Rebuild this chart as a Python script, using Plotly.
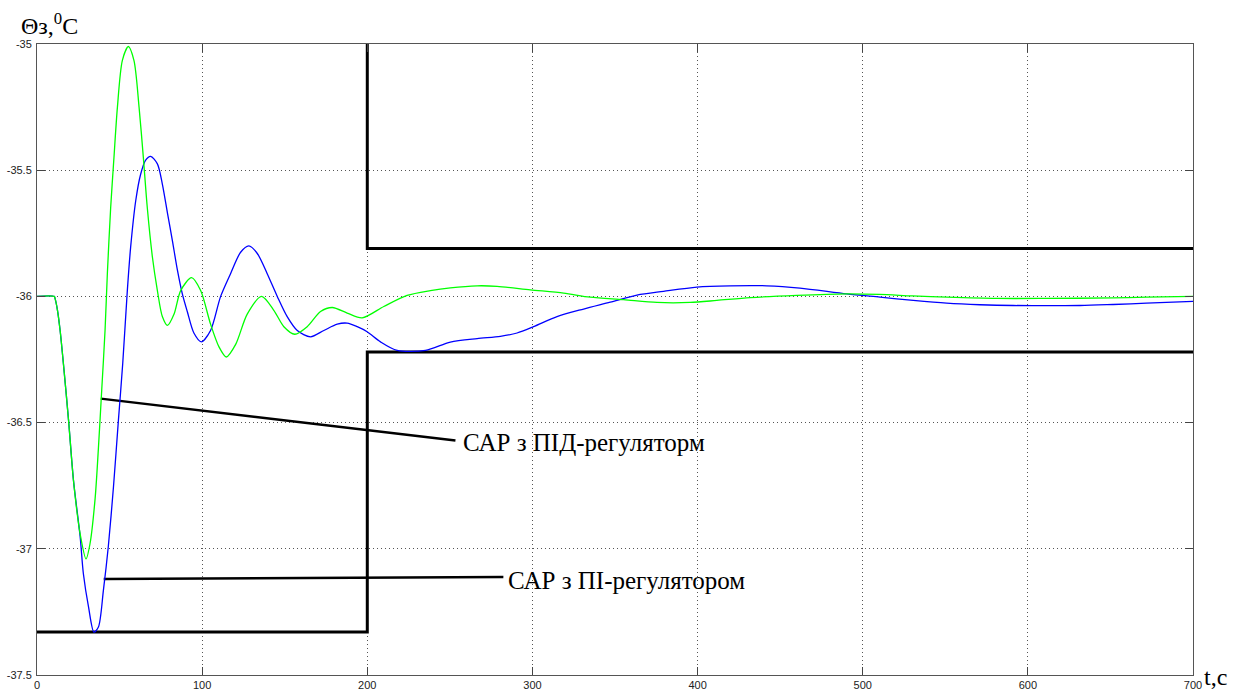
import plotly.graph_objects as go

# Transient response of the zone temperature, deg C, versus time, s
# PID-controlled loop (green)
t_pid = [0, 10.4, 11, 12.4, 14, 16, 19.1, 22.1, 26.1, 29.7, 32.1, 35.2, 37.2, 39.2,
         41.2, 42.6, 44.6, 46.6, 48.7, 51.7, 55.3, 58.7, 61.8, 64.4, 66.8, 69.9, 72.9,
         75.9, 79, 83, 87, 93.6, 99.1, 105.1, 110.2, 114.6, 120.3, 127.3, 136, 143.4,
         149.5, 156.1, 163.6, 171.7, 178.8, 187.8, 196.9, 210, 224.1, 238.2, 250.3,
         266.5, 278.6, 298.7, 318.9, 335, 355.2, 375.4, 395.5, 411.7, 431.9, 460, 490,
         510, 530, 551, 581, 611, 652, 672, 700]
y_pid = [-36.0, -36.0, -36.01, -36.055, -36.135, -36.267, -36.49, -36.73, -36.94, -37.04,
         -36.98, -36.80, -36.60, -36.37, -36.135, -35.91, -35.65, -35.45, -35.25, -35.065,
         -35.01, -35.065, -35.25, -35.45, -35.65, -35.845, -35.977, -36.08, -36.115,
         -36.07, -35.977, -35.926, -35.977, -36.11, -36.2, -36.24, -36.19, -36.07, -36.0,
         -36.055, -36.12, -36.15, -36.12, -36.06, -36.044, -36.066, -36.085, -36.04,
         -35.996, -35.977, -35.966, -35.958, -35.96, -35.974, -35.987, -36.003, -36.013,
         -36.024, -36.024, -36.016, -36.005, -35.996, -35.99, -35.992, -35.998, -36.003,
         -36.008, -36.008, -36.006, -36.003, -36.0]

# PI-controlled loop (blue)
t_pi = [0, 10.4, 11, 12.4, 14, 16, 19.1, 22.1, 26.1, 28.1, 31.2, 34.5, 37.2, 40.2, 43.2,
        46.3, 49.3, 51.9, 54.7, 56.7, 59.8, 62.8, 65.8, 68.8, 72.9, 75.9, 79, 82, 85, 88,
        91, 95, 99.5, 105.1, 111.2, 117.2, 123.3, 128.3, 133.4, 139.4, 145.5, 151.5,
        157.6, 165.6, 173.7, 181.8, 187.8, 193.9, 199.9, 208, 218.1, 235.2, 250.3, 266.5,
        280.6, 290.7, 300.7, 314.9, 331, 347.1, 363.3, 379.4, 399.6, 419.7, 441.9, 462,
        490.3, 510.5, 530.6, 550.8, 571, 591.1, 631.5, 651.6, 671.8, 700]
y_pi = [-36.0, -36.0, -36.01, -36.055, -36.135, -36.267, -36.49, -36.73, -36.95, -37.10,
        -37.23, -37.33, -37.31, -37.165, -36.99, -36.755, -36.49, -36.267, -35.977,
        -35.805, -35.62, -35.515, -35.46, -35.445, -35.475, -35.555, -35.67, -35.78,
        -35.895, -35.99, -36.06, -36.145, -36.18, -36.135, -36.0, -35.91, -35.825, -35.80,
        -35.83, -35.91, -36.0, -36.08, -36.135, -36.16, -36.135, -36.11, -36.106, -36.12,
        -36.14, -36.18, -36.214, -36.214, -36.181, -36.167, -36.158, -36.145, -36.12,
        -36.08, -36.05, -36.023, -35.995, -35.98, -35.963, -35.958, -35.958, -35.967,
        -35.99, -36.003, -36.016, -36.027, -36.033, -36.036, -36.036, -36.032, -36.027,
        -36.02]

# Permitted band limits
t_low = [0, 200, 200, 700]
y_low = [-37.33, -37.33, -36.22, -36.22]
t_up = [200, 200, 700]
y_up = [-35.0, -35.81, -35.81]

# Leader lines for the curve labels
t_lead_pid = [38.6, 253.4]
y_lead_pid = [-36.405, -36.571]
t_lead_pi = [40.4, 282.4]
y_lead_pi = [-37.12, -37.112]

label_pid = "САР з ПІД-регуляторм"
label_pi = "САР з ПІ-регулятором"
label_pid_pos = (257.0, -36.579)
label_pi_pos = (284.0, -37.126)

x_ticks = [0, 100, 200, 300, 400, 500, 600, 700]
y_ticks = [-37.5, -37, -36.5, -36, -35.5, -35]

fig = go.Figure()

black = dict(color="black", width=3)
fig.add_trace(go.Scatter(x=t_low, y=y_low, mode="lines", line=black))
fig.add_trace(go.Scatter(x=t_up, y=y_up, mode="lines", line=black))
fig.add_trace(go.Scatter(x=t_lead_pid, y=y_lead_pid, mode="lines",
                         line=dict(color="black", width=2.5)))
fig.add_trace(go.Scatter(x=t_lead_pi, y=y_lead_pi, mode="lines",
                         line=dict(color="black", width=2.5)))

fig.add_trace(go.Scatter(x=t_pi, y=y_pi, mode="lines",
                         line=dict(color="#0000ff", width=1.3, shape="spline", smoothing=0.8)))
fig.add_trace(go.Scatter(x=t_pid, y=y_pid, mode="lines",
                         line=dict(color="#00ff00", width=1.3, shape="spline", smoothing=0.8)))

serif = "Liberation Serif"
fig.add_annotation(x=label_pid_pos[0], y=label_pid_pos[1], text=label_pid,
                   xanchor="left", yanchor="middle", showarrow=False,
                   font=dict(family=serif, size=25, color="black"))
fig.add_annotation(x=label_pi_pos[0], y=label_pi_pos[1], text=label_pi,
                   xanchor="left", yanchor="middle", showarrow=False,
                   font=dict(family=serif, size=25, color="black"))

# Axis titles
fig.add_annotation(xref="paper", yref="paper", x=-0.016, y=1.058,
                   text="Θз,<sup>0</sup>C", xanchor="left", yanchor="top",
                   showarrow=False, font=dict(family=serif, size=24, color="black"))
fig.add_annotation(xref="paper", yref="paper", x=1.0085, y=-0.025,
                   text="t,c", xanchor="left", yanchor="bottom", borderpad=0,
                   showarrow=False, font=dict(family=serif, size=24, color="black"))

axis_common = dict(
    showline=True, linecolor="#555555", linewidth=1, mirror="ticks",
    ticks="inside", ticklen=8, tickcolor="#444444",
    showgrid=True, gridcolor="#555555", griddash="1px,3px", gridwidth=1,
    zeroline=False, automargin=False,
    tickfont=dict(family="Liberation Sans", size=11, color="#222222"),
)

fig.update_xaxes(range=[0, 700], tickvals=x_ticks, ticktext=[str(v) for v in x_ticks],
                 **axis_common)
fig.update_yaxes(range=[-37.5, -35], tickvals=y_ticks,
                 ticktext=["-37.5", "-37", "-36.5", "-36", "-35.5", "-35"],
                 ticklabelstandoff=2, **axis_common)

fig.update_layout(
    width=1237, height=691,
    margin=dict(l=37, r=44, t=44, b=16, autoexpand=False),
    paper_bgcolor="white", plot_bgcolor="white",
    showlegend=False, hovermode=False,
)

fig.write_html("out.html")
